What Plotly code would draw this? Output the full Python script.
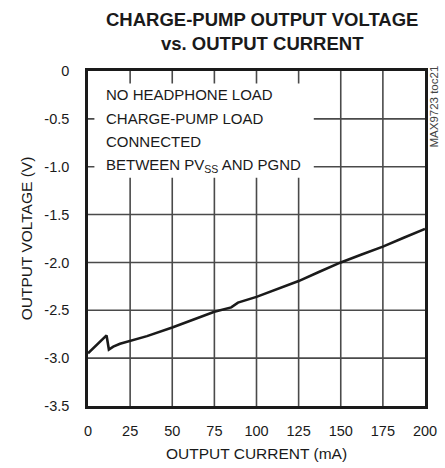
import plotly.graph_objects as go

current_ma = [0, 3, 6, 9, 11, 12.4, 15, 19, 25, 35, 50, 65, 75, 85, 87, 89,
              100, 112, 125, 137, 150, 162, 175, 187, 200]
voltage_v = [-2.95, -2.90, -2.85, -2.80, -2.762, -2.91, -2.88, -2.85, -2.82,
             -2.77, -2.68, -2.58, -2.515, -2.47, -2.44, -2.42, -2.36, -2.28,
             -2.195, -2.10, -2.0, -1.92, -1.835, -1.745, -1.65]

x_ticks = [0, 25, 50, 75, 100, 125, 150, 175, 200]
y_ticks = [0, -0.5, -1.0, -1.5, -2.0, -2.5, -3.0, -3.5]
y_tick_text = ["0", "-0.5", "-1.0", "-1.5", "-2.0", "-2.5", "-3.0", "-3.5"]

note_lines = ["NO HEADPHONE LOAD", "CHARGE-PUMP LOAD", "CONNECTED",
              "BETWEEN PV<sub>SS</sub> AND PGND"]

FONT = "Liberation Sans, Arial, sans-serif"
INK = "#1a1a1a"
GRID = "#4a4a4a"

fig = go.Figure()

# grid: each line is its own small trace through the tick positions
for v in y_ticks[1:-1]:
    fig.add_trace(go.Scatter(x=[x_ticks[0], x_ticks[-1]], y=[v, v], mode="lines",
                             line=dict(color=GRID, width=1.6),
                             showlegend=False, hoverinfo="skip"))
for t in x_ticks[1:-1]:
    fig.add_trace(go.Scatter(x=[t, t], y=[y_ticks[0], y_ticks[-1]], mode="lines",
                             line=dict(color=GRID, width=1.6),
                             showlegend=False, hoverinfo="skip"))

fig.add_trace(go.Scatter(x=current_ma, y=voltage_v, mode="lines",
                         line=dict(color=INK, width=2.6),
                         showlegend=False, hoverinfo="skip"))

fig.update_layout(
    template="none",
    width=445, height=468,
    margin=dict(l=88, r=20, t=71, b=62, pad=0),
    paper_bgcolor="white", plot_bgcolor="white",
    font=dict(family=FONT, color=INK, size=14),
)
fig.update_xaxes(range=[0, 200], tickmode="array", tickvals=x_ticks,
                 ticks="outside", ticklen=10, tickcolor="rgba(0,0,0,0)",
                 showgrid=False,
                 showline=True, linecolor=INK, linewidth=2.6, mirror=True,
                 zeroline=False, tickfont=dict(size=14.5),
                 title=dict(text="OUTPUT CURRENT (mA)", font=dict(size=15.5), standoff=10))
fig.update_yaxes(range=[-3.5, 0], tickmode="array", tickvals=y_ticks, ticktext=y_tick_text,
                 ticks="outside", ticklen=13, tickcolor="rgba(0,0,0,0)",
                 showgrid=False,
                 showline=True, linecolor=INK, linewidth=2.6, mirror=True,
                 zeroline=False, tickfont=dict(size=14.5),
                 title=dict(text="OUTPUT VOLTAGE (V)", font=dict(size=15.5), standoff=8))

fig.add_annotation(text="<b>CHARGE-PUMP OUTPUT VOLTAGE<br>vs. OUTPUT CURRENT</b>",
                   xref="paper", yref="paper", x=0.517, y=1.118,
                   xanchor="center", yanchor="middle", align="center",
                   showarrow=False, font=dict(family=FONT, size=18.5, color=INK))

# white mask behind the note text (hides the grid there)
fig.add_shape(type="rect", xref="paper", yref="paper",
              x0=0.019, x1=0.670, y0=0.681, y1=0.963,
              fillcolor="white", line=dict(width=0), layer="above")

note_y = [0.9296, 0.8578, 0.7889, 0.7171]
for txt, yy in zip(note_lines, note_y):
    fig.add_annotation(text=txt, xref="paper", yref="paper", x=0.046, y=yy,
                       xanchor="left", yanchor="middle", align="left",
                       showarrow=False, font=dict(family=FONT, size=15, color=INK))

fig.add_annotation(
    text="MAX9723 toc21", xref="paper", yref="paper", x=1.0238, y=0.894,
    xanchor="center", yanchor="middle", textangle=-90, showarrow=False,
    font=dict(family=FONT, size=11.5, color="#444444"))

fig.write_html("out.html", config={"displayModeBar": False},
               post_script="document.body.style.margin='0';")
